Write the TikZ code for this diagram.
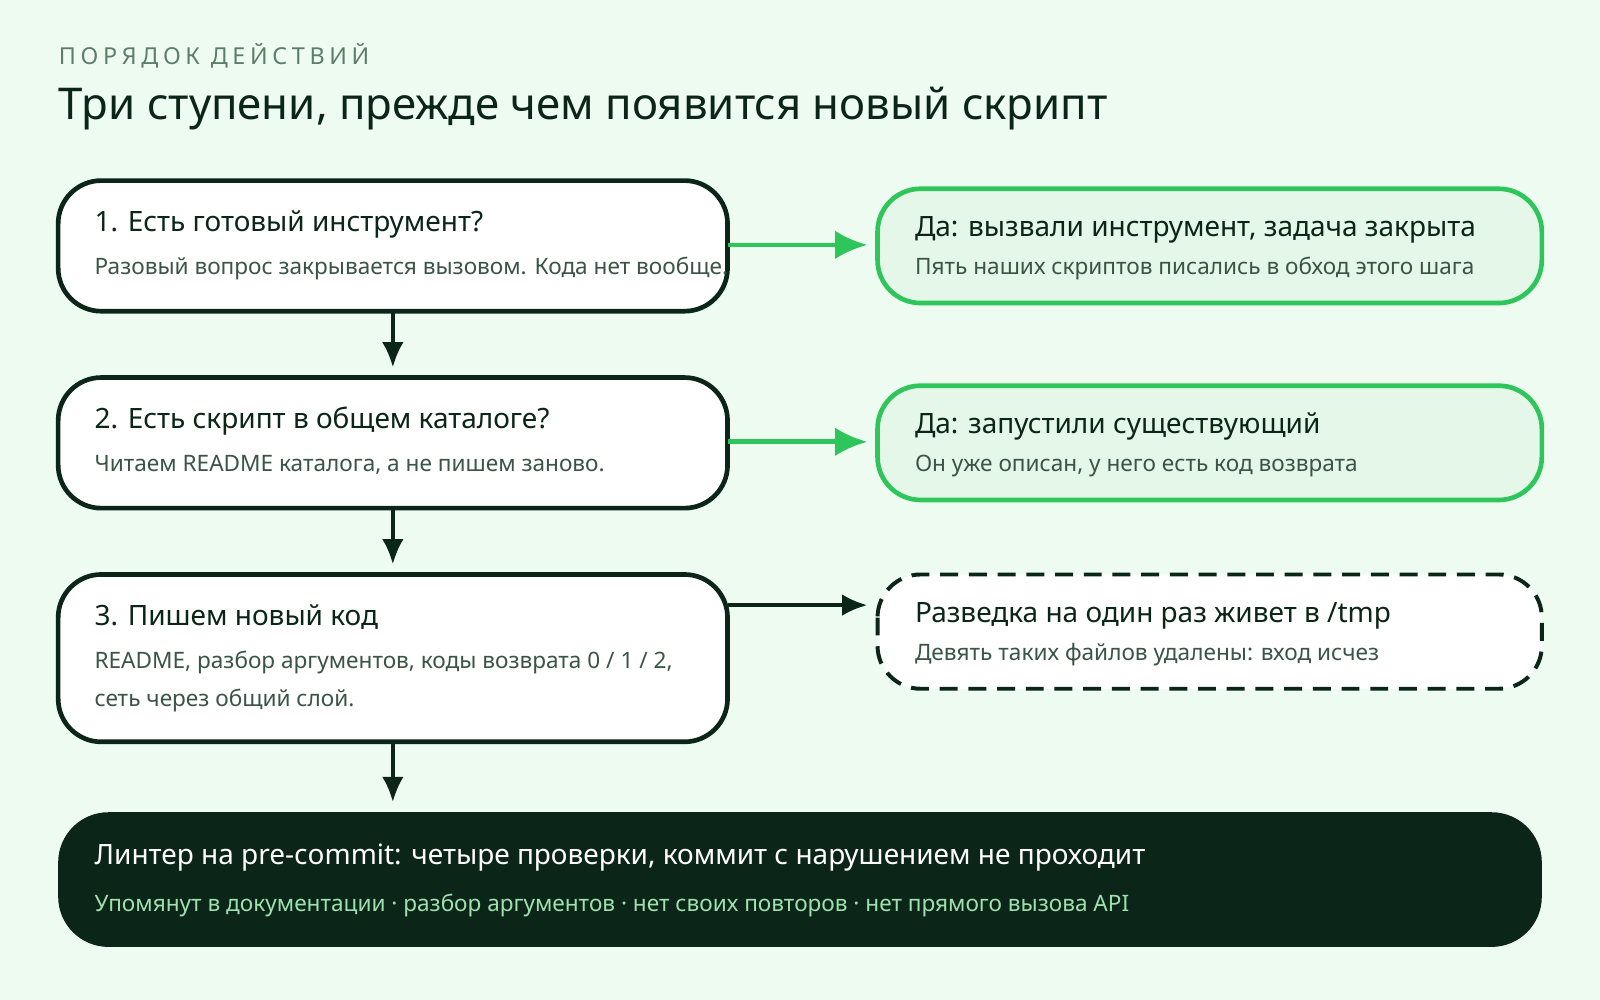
\documentclass[tikz,border=0pt]{standalone}
\usepackage{fontspec}
\setmainfont{Noto Sans}
\usetikzlibrary{arrows.meta,positioning}
\definecolor{bgcolor}{HTML}{EEFBF1}
\definecolor{inkcolor}{HTML}{0B2618}
\definecolor{greenfill}{HTML}{E4F7E8}
\definecolor{greenline}{HTML}{2EC65A}
\definecolor{subcolor}{HTML}{3A5546}
\definecolor{kickercolor}{HTML}{5E7D68}
\definecolor{lightgreen}{HTML}{9FE0AE}
\tikzset{
  stage/.style={draw=inkcolor,line width=1.3pt,fill=white,rounded corners=12},
  yes/.style={draw=greenline,line width=1.3pt,fill=greenfill,rounded corners=12},
  tmp/.style={draw=inkcolor,line width=1.1pt,dash pattern=on 5pt off 3pt,fill=white,rounded corners=12},
  head/.style={anchor=base west,inner sep=0pt,font=\fontsize{7.8}{9}\selectfont\bfseries,text=inkcolor},
  sub/.style={anchor=base west,inner sep=0pt,font=\fontsize{6.3}{7.5}\selectfont,text=subcolor},
  down/.style={-{Latex[length=7pt,width=6pt]},line width=1pt,draw=inkcolor},
  go/.style={-{Latex[length=9pt,width=8pt]},line width=1.3pt,draw=greenline}
}
\begin{document}
\begin{tikzpicture}[x=0.01cm,y=-0.01cm]
\fill[bgcolor] (0,0) rectangle (1568,980);
\useasboundingbox (0,0) rectangle (1568,980);
% heading
\node[anchor=base west,inner sep=0pt,text=kickercolor,font=\fontsize{6.5}{8}\selectfont\addfontfeatures{LetterSpace=20}] (kicker) at (57,63) {ПОРЯДОК ДЕЙСТВИЙ};
\node[anchor=base west,inner sep=0pt,text=inkcolor,font=\fontsize{12.2}{14}\selectfont\bfseries] (title) at (57,117) {Три ступени, прежде чем появится новый скрипт};
% left column
\draw[stage] (57,177) rectangle (713,305);
\node[head] (t1) at (92,227) {1. Есть готовый инструмент?};
\node[sub] (s1) at (92,269) {Разовый вопрос закрывается вызовом. Кода нет вообще.};
\draw[stage] (57,370) rectangle (713,498);
\node[head] (t2) at (92,420) {2. Есть скрипт в общем каталоге?};
\node[sub] (s2) at (92,462) {Читаем README каталога, а не пишем заново.};
\draw[stage] (57,563) rectangle (713,727);
\node[head] (t3) at (92,613) {3. Пишем новый код};
\node[sub] (s3) at (92,655) {README, разбор аргументов, коды возврата 0 / 1 / 2,};
\node[sub] (s3b) at (92,692) {сеть через общий слой.};
% right column
\draw[yes] (860,185) rectangle (1511,297);
\node[head] (y1) at (896,232) {Да: вызвали инструмент, задача закрыта};
\node[sub] (ys1) at (896,269) {Пять наших скриптов писались в обход этого шага};
\draw[yes] (860,378) rectangle (1511,490);
\node[head] (y2) at (896,425) {Да: запустили существующий};
\node[sub] (ys2) at (896,462) {Он уже описан, у него есть код возврата};
\draw[tmp] (860,563) rectangle (1511,675);
\node[head] (n3) at (896,610) {Разведка на один раз живет в /tmp};
\node[sub] (ns3) at (896,647) {Девять таких файлов удалены: вход исчез};
% linter
\fill[inkcolor,rounded corners=14] (57,796) rectangle (1511,928);
\node[head,text=white] (lint) at (92,847) {Линтер на pre-commit: четыре проверки, коммит с нарушением не проходит};
\node[sub,text=lightgreen] (lints) at (92,893) {Упомянут в документации · разбор аргументов · нет своих повторов · нет прямого вызова API};
% arrows
\coordinate (b1) at (385,305); \coordinate (e1) at (385,360);
\coordinate (b2) at (385,498); \coordinate (e2) at (385,553);
\coordinate (b3) at (385,727); \coordinate (e3) at (385,786);
\draw[down] (b1) -- (e1);
\draw[down] (b2) -- (e2);
\draw[down] (b3) -- (e3);
\coordinate (r1) at (713,240); \coordinate (f1) at (850,240);
\coordinate (r2) at (713,433); \coordinate (f2) at (850,433);
\coordinate (r3) at (713,593); \coordinate (f3) at (850,593);
\draw[go] (r1) -- (f1);
\draw[go] (r2) -- (f2);
\draw[down] (r3) -- (f3);
\end{tikzpicture}
\end{document}
